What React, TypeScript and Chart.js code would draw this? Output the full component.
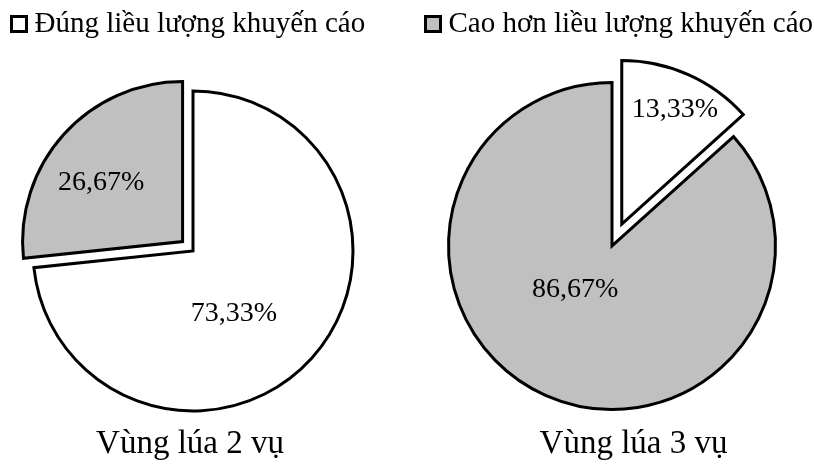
import React, { useEffect, useRef } from 'react';
import { Chart, registerables } from 'chart.js';

Chart.register(...registerables);

// ---- data ----
const categories = ['Đúng liều lượng khuyến cáo', 'Cao hơn liều lượng khuyến cáo'];
const region2Values = [73.33, 26.67];
const region3Values = [13.33, 86.67];
const chartTitles = ['Vùng lúa 2 vụ', 'Vùng lúa 3 vụ'];

// ---- styles ----
const SERIF = "'Liberation Serif', 'Times New Roman', Times, serif";
const sliceColors = ['#ffffff', '#c0c0c0'];
Chart.defaults.font.family = SERIF;

function makeSwatch(color: string) {
  const c = document.createElement('canvas');
  c.width = 18;
  c.height = 18;
  const g = c.getContext('2d')!;
  g.fillStyle = color;
  g.fillRect(0, 0, 18, 18);
  g.lineWidth = 3;
  g.strokeStyle = '#000';
  g.strokeRect(1.5, 1.5, 15, 15);
  return c;
}

const fmt = (v: number) => v.toFixed(2).replace('.', ',') + '%';

const pieTweaks = {
  id: 'pieTweaks',
  afterDatasetUpdate(chart: any, args: any, opts: any) {
    const meta = chart.getDatasetMeta(args.index);
    meta.data.forEach((arc: any, i: number) => {
      const d = (opts.explode && opts.explode[i]) || 0;
      const mid = (arc.startAngle + arc.endAngle) / 2;
      arc.x += (opts.dx || 0) + Math.cos(mid) * d;
      arc.y += (opts.dy || 0) + Math.sin(mid) * d;
    });
  },
  afterDatasetsDraw(chart: any, _args: any, opts: any) {
    const ctx = chart.ctx;
    const meta = chart.getDatasetMeta(0);
    const ds = chart.data.datasets[0];
    ctx.save();
    ctx.font = `28px ${SERIF}`;
    ctx.fillStyle = '#000';
    ctx.textAlign = 'center';
    ctx.textBaseline = 'middle';
    meta.data.forEach((arc: any, i: number) => {
      const mid = (arc.startAngle + arc.endAngle) / 2 + ((opts.labelAngle[i] || 0) * Math.PI) / 180;
      const r = arc.outerRadius * opts.labelRadius[i];
      ctx.fillText(fmt(ds.data[i]), arc.x + Math.cos(mid) * r, arc.y + Math.sin(mid) * r);
    });
    ctx.restore();
  },
};

function makePie(
  canvas: HTMLCanvasElement,
  values: number[],
  title: string,
  legendIndex: number,
  padding: any,
  tweak: any
) {
  const swatch = makeSwatch(sliceColors[legendIndex]);
  return new Chart(canvas, {
    type: 'pie',
    data: {
      labels: categories,
      datasets: [
        {
          data: values,
          backgroundColor: sliceColors,
          borderColor: '#000',
          borderWidth: 3,
          borderJoinStyle: 'miter',
          clip: false,
        } as any,
      ],
    },
    options: {
      responsive: false,
      animation: false,
      events: [],
      radius: tweak.radius,
      layout: { padding },
      plugins: {
        tooltip: { enabled: false },
        legend: {
          display: true,
          position: 'top',
          align: 'start',
          labels: {
            usePointStyle: true,
            pointStyleWidth: 2,
            padding: 9.5,
            color: '#000',
            font: { family: SERIF, size: 29, weight: 'normal' },
            generateLabels: () => [
              {
                text: categories[legendIndex],
                pointStyle: swatch,
                fillStyle: sliceColors[legendIndex],
                strokeStyle: '#000',
                fontColor: '#000',
                lineWidth: 0,
                hidden: false,
                index: legendIndex,
              } as any,
            ],
          },
        },
        title: {
          display: true,
          text: title,
          position: 'bottom',
          color: '#000',
          font: { family: SERIF, size: 33, weight: 'normal' },
          padding: { top: 0, bottom: 1 },
        },
        pieTweaks: tweak,
      } as any,
    },
    plugins: [pieTweaks],
  } as any);
}

export default function App() {
  const leftRef = useRef<HTMLCanvasElement>(null);
  const rightRef = useRef<HTMLCanvasElement>(null);

  useEffect(() => {
    const charts = [
      makePie(
        leftRef.current!,
        region2Values,
        chartTitles[0],
        0,
        { left: 8.5, right: 35.5, top: 0, bottom: 0 },
        { radius: 160, dx: 3, dy: 14.5, explode: [0, 14], labelRadius: [0.47, 0.63], labelAngle: [15, -6] }
      ),
      makePie(
        rightRef.current!,
        region3Values,
        chartTitles[1],
        1,
        { left: 15.5, right: 12.5, top: 0, bottom: 0 },
        { radius: 163.5, dx: -21.5, dy: 9.5, explode: [24, 0], labelRadius: [0.77, 0.35], labelAngle: [1, 16] }
      ),
    ];
    return () => charts.forEach((c) => c.destroy());
  }, []);

  return (
    <div
      style={{
        position: 'fixed',
        left: 0,
        top: 0,
        width: 814,
        height: 465,
        overflow: 'hidden',
        background: '#fff',
      }}
    >
      <div style={{ position: 'absolute', left: 0, top: 0, width: 407, height: 465 }}>
        <canvas ref={leftRef} width={407} height={465} style={{ display: 'block' }} />
      </div>
      <div style={{ position: 'absolute', left: 407, top: 0, width: 450, height: 465 }}>
        <canvas ref={rightRef} width={450} height={465} style={{ display: 'block' }} />
      </div>
    </div>
  );
}
